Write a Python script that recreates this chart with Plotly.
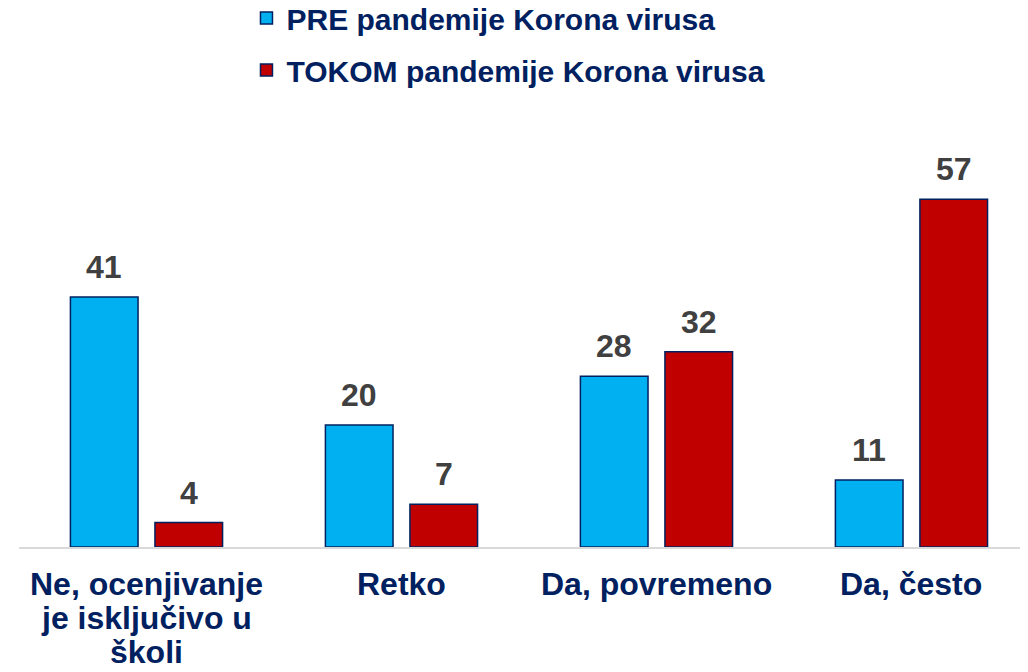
import plotly.graph_objects as go

categories = ["Ne, ocenjivanje<br>je isključivo u<br>školi", "Retko", "Da, povremeno", "Da, često"]
pre_values = [41, 20, 28, 11]
tokom_values = [4, 7, 32, 57]
series_names = ["PRE pandemije Korona virusa", "TOKOM pandemije Korona virusa"]

FONT = "Arial, 'Liberation Sans', sans-serif"
NAVY = "#002060"
BARGAP = 0.337
GROUPGAP = 0.2

fig = go.Figure()
fig.add_trace(go.Bar(
    x=categories, y=pre_values, name=series_names[0], legendgroup="a",
    marker=dict(color="#00B0F0", line=dict(color=NAVY, width=1.5)),
))
fig.add_trace(go.Bar(
    x=categories, y=tokom_values, name=series_names[1], legendgroup="b",
    marker=dict(color="#C00000", line=dict(color=NAVY, width=1.5)),
))

annotations = []
# value labels above bars, positioned on the category axis
offset = (1 - BARGAP) / 4
for series, sign in ((pre_values, -1), (tokom_values, 1)):
    for i, v in enumerate(series):
        annotations.append(dict(
            x=i + sign * offset, xref="x", y=v, yref="y",
            text=f"<b>{v}</b>", showarrow=False, yanchor="middle", yshift=30,
            font=dict(family=FONT, size=32, color="#404040"),
        ))
# category labels under the axis (one text per line for tight spacing)
for i, cat in enumerate(categories):
    for k, line in enumerate(cat.split("<br>")):
        annotations.append(dict(
            x=i, xref="x", y=0, yref="y",
            text=f"<b>{line}</b>", showarrow=False, yanchor="middle",
            yshift=-37 - 34 * k,
            font=dict(family=FONT, size=32, color=NAVY),
        ))

fig.update_layout(
    width=1020, height=664,
    margin=dict(l=11, r=0, t=112, b=125, autoexpand=False),
    paper_bgcolor="white", plot_bgcolor="white",
    barmode="group", bargap=BARGAP, bargroupgap=GROUPGAP,
    font=dict(family=FONT, color=NAVY),
    legend=dict(
        orientation="v", xref="container", yref="paper",
        x=0.2338, xanchor="left", y=1.2998, yanchor="top",
        font=dict(family=FONT, size=30, color=NAVY, weight="bold"),
        tracegroupgap=10, bgcolor="rgba(0,0,0,0)",
    ),
    xaxis=dict(
        type="category", range=[-0.5, 3.457], automargin=False,
        showline=True, linecolor="#D9D9D9", linewidth=2,
        ticks="", showgrid=False, showticklabels=False,
    ),
    yaxis=dict(range=[0, 70], visible=False, showgrid=False, zeroline=False),
    annotations=annotations,
)

fig.write_html("out.html")
